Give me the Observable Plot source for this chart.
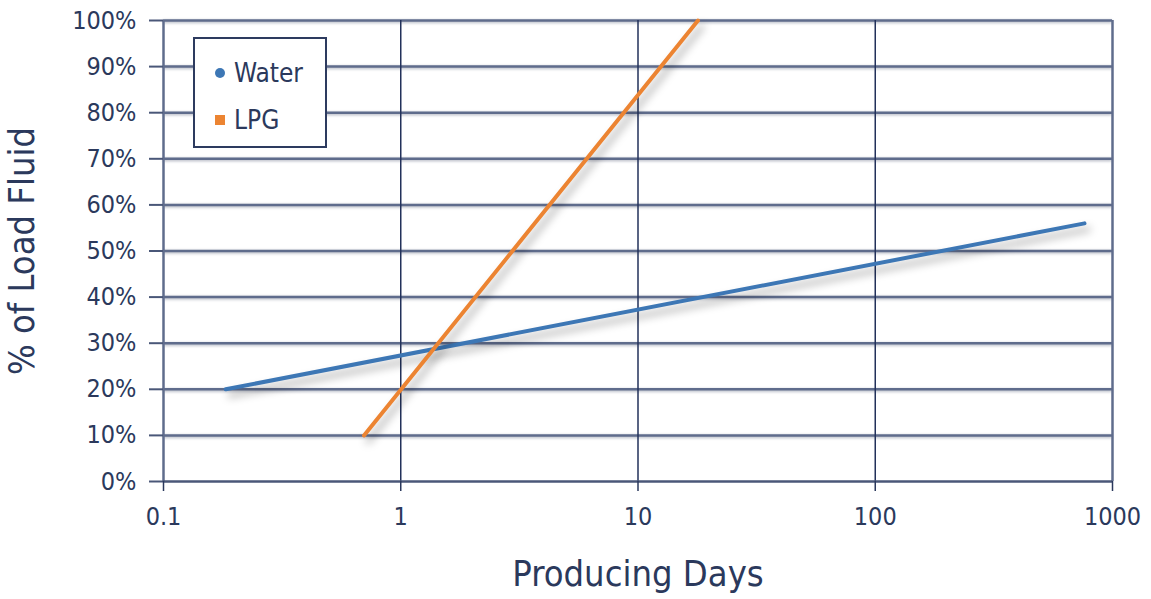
<!DOCTYPE html>
<html>
<head>
<meta charset="utf-8">
<script src="https://cdn.jsdelivr.net/npm/d3@7"></script>
<script src="https://cdn.jsdelivr.net/npm/@observablehq/plot@0.6"></script>
<style>
  html, body { margin: 0; padding: 0; background: #fff; }
  #wrap { position: relative; width: 1151px; height: 599px; font-family: "DejaVu Sans Condensed", "DejaVu Sans", sans-serif; }
  .shadow { filter: drop-shadow(4px 6px 4px rgba(0,0,0,0.35)); }
  .gshadow { filter: drop-shadow(0px 1px 1.5px rgba(60,70,100,0.45)); }
  #legend { position: absolute; left: 193px; top: 37px; width: 130px; height: 107px; border: 2px solid #2d3b5f; background: #fff; color: #2b395c; font-size: 26px; }
  #legend .item { position: absolute; left: 20px; display: flex; align-items: center; line-height: 1; }
  #legend .sw { display: inline-block; width: 10px; height: 10px; margin-right: 9px; }
</style>
</head>
<body>
<div id="wrap"></div>
<script>
// Data
const waterDays = [0.183, 762];
const waterPct = [20, 56];
const lpgDays = [0.70, 17.9];
const lpgPct = [10, 100];
const seriesNames = ["Water", "LPG"];
const seriesColors = ["#3d77b5", "#ec8432"];
const xTicks = [0.1, 1, 10, 100, 1000];
const yTicks = [0, 10, 20, 30, 40, 50, 60, 70, 80, 90, 100];
const textColor = "#2b395c";

const water = waterDays.map((d, i) => ({days: d, pct: waterPct[i]}));
const lpg = lpgDays.map((d, i) => ({days: d, pct: lpgPct[i]}));

const chart = Plot.plot({
  width: 1151,
  height: 599,
  marginLeft: 163,
  marginRight: 39,
  marginTop: 20,
  marginBottom: 118,
  style: {fontFamily: '"DejaVu Sans Condensed", "DejaVu Sans", sans-serif', color: textColor, background: "#fff", overflow: "visible"},
  x: {type: "log", domain: [0.1, 1000]},
  y: {domain: [0, 100]},
  marks: [
    Plot.ruleY(yTicks.slice(1), {stroke: "#5f6c8c", strokeWidth: 2.5, className: "gshadow"}),
    Plot.ruleX(xTicks.slice(1, 4), {stroke: "#22315a", strokeWidth: 1.5}),
    Plot.ruleX([1000], {stroke: "#5f6c8c", strokeWidth: 2.5}),
    Plot.ruleX([0.1], {stroke: "#5f6c8c", strokeWidth: 2.5}),
    Plot.ruleY([0], {stroke: "#4a5778", strokeWidth: 2.5}),
    Plot.axisY({ticks: yTicks, tickSize: 14, tickPadding: 13, tickFormat: d => d + "%", fontSize: 25, stroke: "#4a5778", strokeWidth: 2, label: "% of Load Fluid", labelArrow: "none", labelAnchor: "center", labelOffset: 155}),
    Plot.axisX({ticks: xTicks, tickSize: 10, tickPadding: 16, tickFormat: d => String(d), fontSize: 25, stroke: "#2a385c", strokeWidth: 1.5, label: "Producing Days", labelArrow: "none", labelAnchor: "center", labelOffset: 104}),
    Plot.line(water, {x: "days", y: "pct", stroke: seriesColors[0], strokeWidth: 4, className: "shadow"}),
    Plot.line(lpg, {x: "days", y: "pct", stroke: seriesColors[1], strokeWidth: 4, className: "shadow"})
  ]
});
// enlarge axis labels and drop any arrows
chart.querySelectorAll('g[aria-label="x-axis label"] text, g[aria-label="y-axis label"] text').forEach(t => {
  t.setAttribute("font-size", 36);
  t.textContent = t.textContent.replace(/\s*[→↑]\s*/g, "").trim();
});
document.getElementById("wrap").appendChild(chart);

const legend = document.createElement("div");
legend.id = "legend";
seriesNames.forEach((name, i) => {
  const item = document.createElement("div");
  item.className = "item";
  item.style.top = (i === 0 ? 21 : 68) + "px";
  const sw = document.createElement("span");
  sw.className = "sw";
  sw.style.background = seriesColors[i];
  if (i === 0) sw.style.borderRadius = "50%";
  item.appendChild(sw);
  item.appendChild(document.createTextNode(name));
  legend.appendChild(item);
});
document.getElementById("wrap").appendChild(legend);
</script>
</body>
</html>
